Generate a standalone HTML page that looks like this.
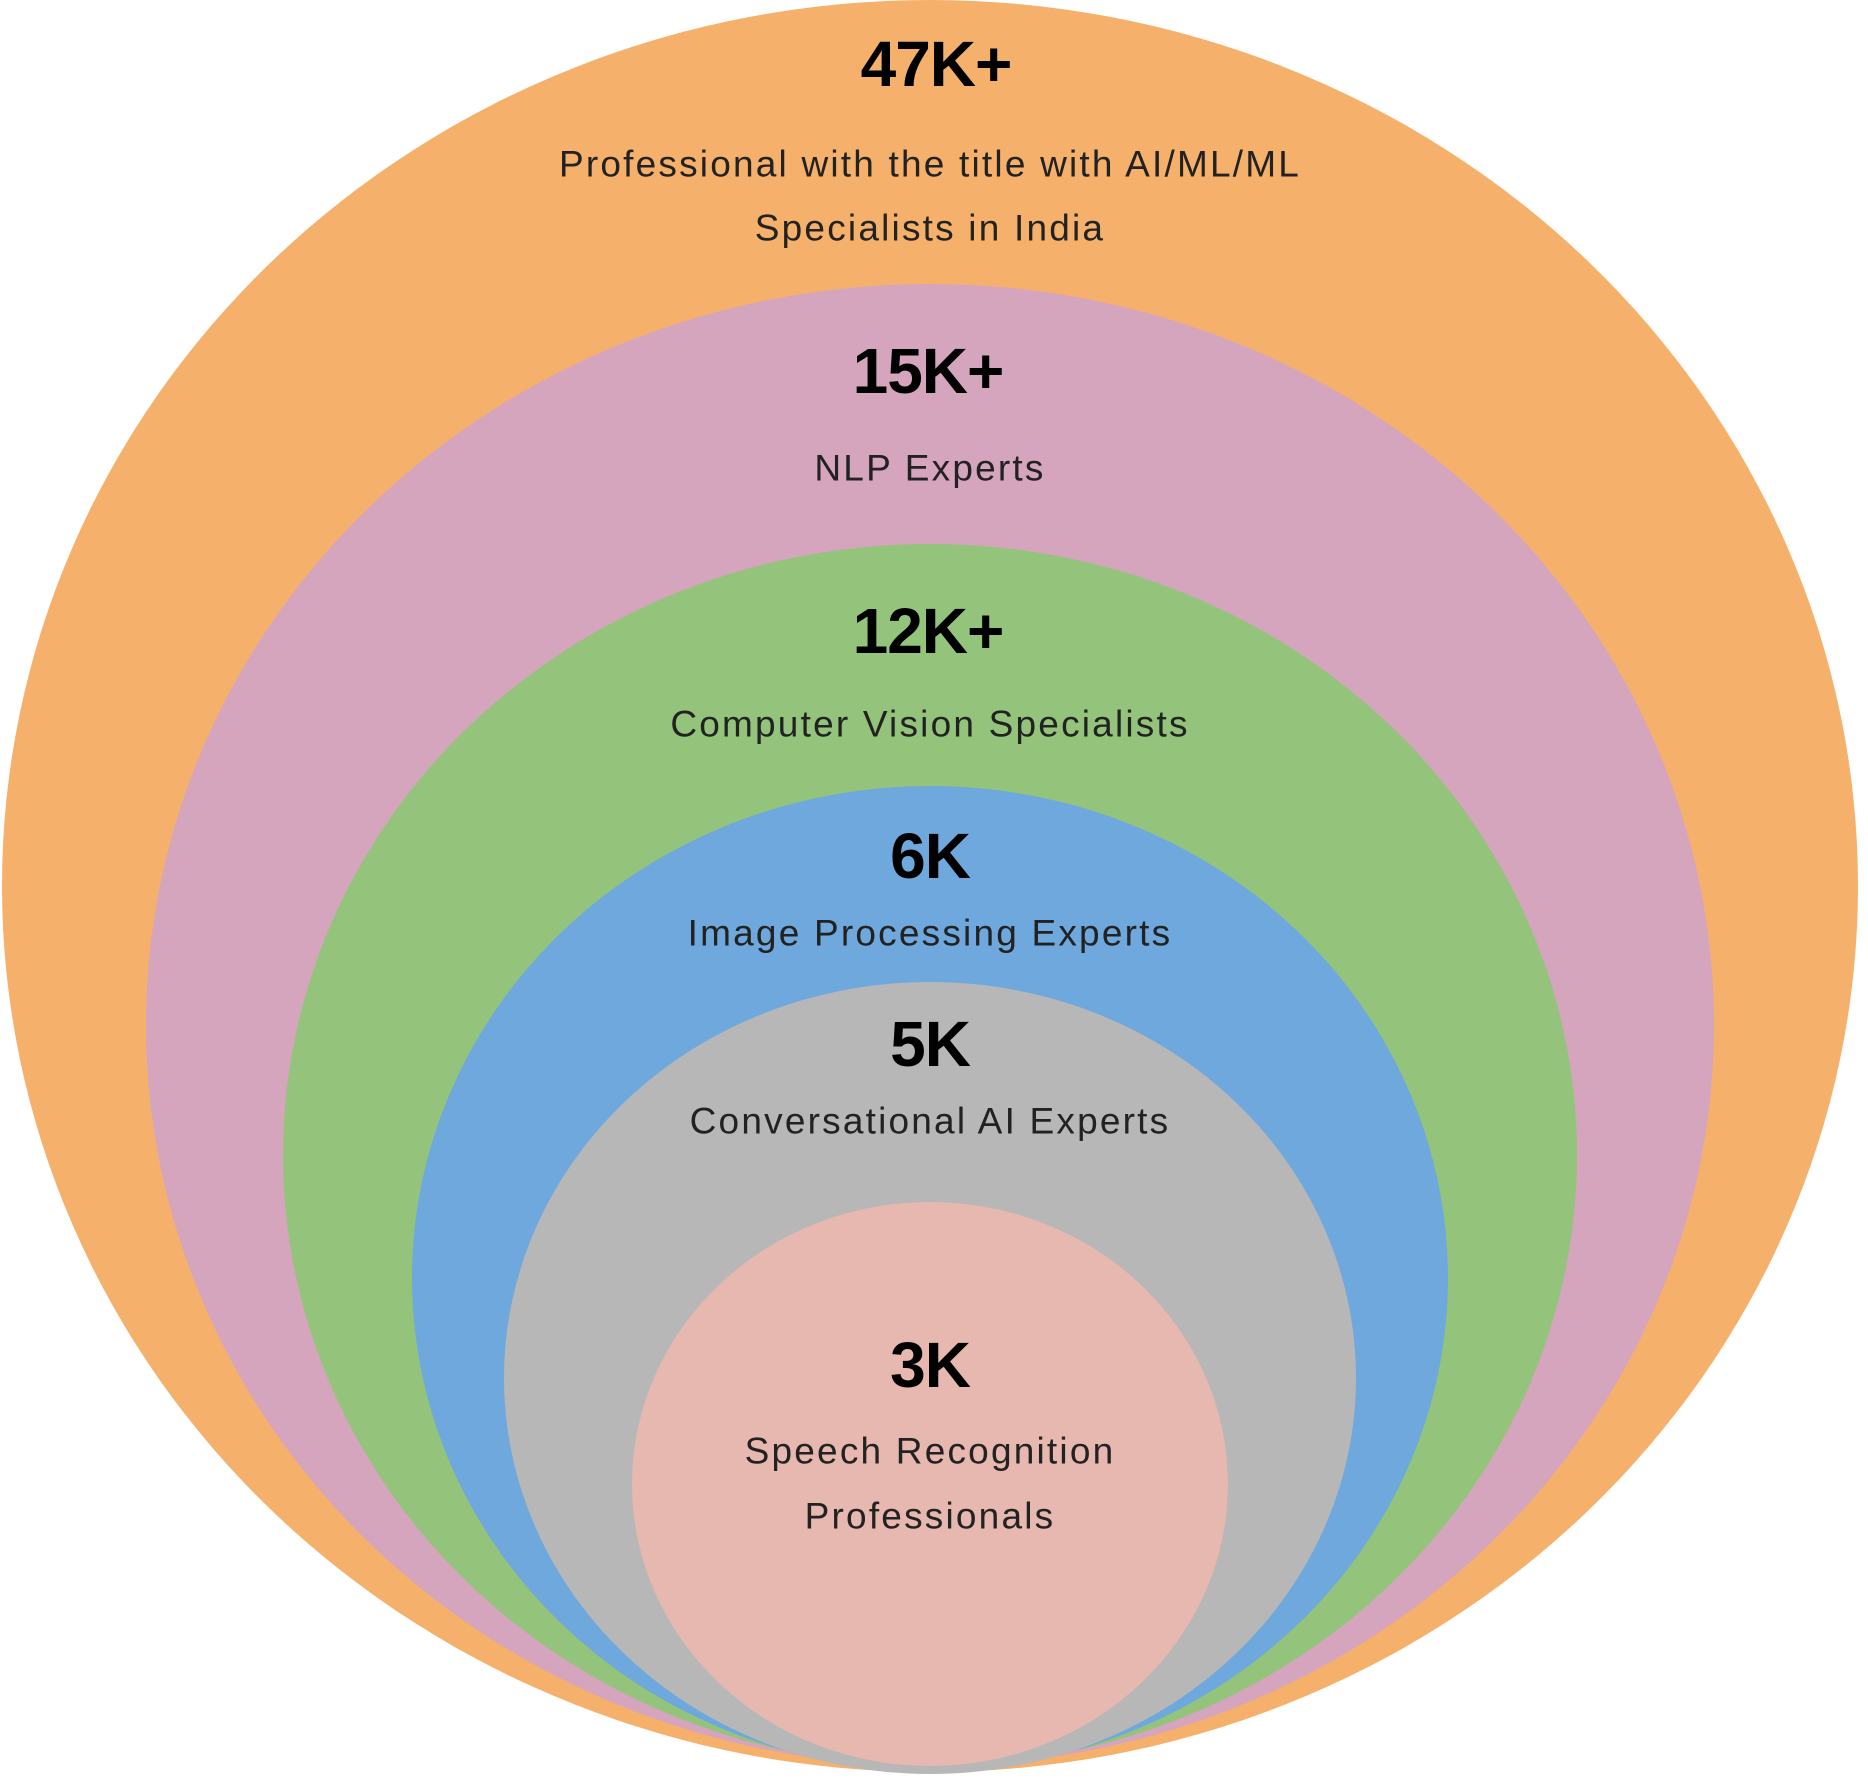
<!DOCTYPE html>
<html><head><style>html,body{margin:0;padding:0;background:#fff}</style></head>
<body>
<svg width="1868" height="1776" viewBox="0 0 1868 1776" xmlns="http://www.w3.org/2000/svg">
<ellipse cx="930" cy="886" rx="928" ry="886" fill="#f5b16b"/>
<ellipse cx="930" cy="1025" rx="784" ry="741" fill="#d5a4bd"/>
<ellipse cx="930" cy="1155" rx="647" ry="611" fill="#94c47b"/>
<ellipse cx="930" cy="1278" rx="518" ry="492" fill="#6fa8dc"/>
<ellipse cx="930" cy="1378" rx="426" ry="396" fill="#b7b7b7"/>
<ellipse cx="930" cy="1484" rx="298" ry="282" fill="#e6b8af"/>
<g font-family="'Liberation Sans', sans-serif" text-anchor="middle" dominant-baseline="central" fill="#000">
<g font-weight="bold" font-size="64" letter-spacing="-1">
<text x="936" y="64">47K+</text>
<text x="928" y="371">15K+</text>
<text x="928" y="631">12K+</text>
<text x="930" y="856">6K</text>
<text x="930" y="1044">5K</text>
<text x="930" y="1365">3K</text>
</g>
<g font-size="37" letter-spacing="2.2" fill="#222">
<text x="930" y="164">Professional with the title with AI/ML/ML</text>
<text x="930" y="228">Specialists in India</text>
<text x="930" y="468">NLP Experts</text>
<text x="930" y="724">Computer Vision Specialists</text>
<text x="930" y="933">Image Processing Experts</text>
<text x="930" y="1121">Conversational AI Experts</text>
<text x="930" y="1451">Speech Recognition</text>
<text x="930" y="1516">Professionals</text>
</g>
</g>
</svg>
</body></html>
